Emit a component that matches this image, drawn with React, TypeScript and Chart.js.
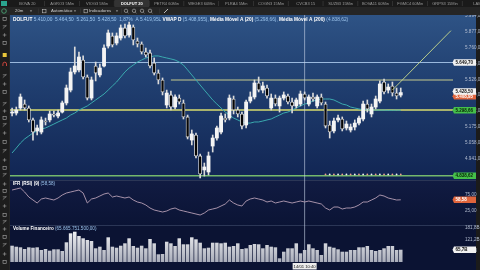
import React, { useEffect, useRef } from "react";
import { Chart, registerables } from "chart.js";

Chart.register(...registerables);

// ---------- DATA ----------
const candleOpen = [
  5278, 5278, 5315, 5344, 5315, 5227, 5146, 5138, 5219, 5227,
  5271, 5256, 5285, 5352, 5447, 5580, 5595, 5668, 5543, 5388,
  5624, 5558, 5624, 5771, 5845, 5793, 5830, 5904, 5852, 5911,
  5808, 5786, 5727, 5720, 5646, 5572, 5521, 5337, 5411, 5322,
  5388, 5352, 5249, 5079, 5116, 4962, 4859, 4844, 5035, 5094,
  5138, 5241, 5241, 5381, 5300, 5271, 5190, 5366, 5396, 5499,
  5447, 5462, 5315, 5388, 5330, 5388, 5403, 5359, 5330, 5344,
  5418, 5344, 5396, 5330, 5396, 5344, 5190, 5146, 5227, 5234,
  5168, 5153, 5175, 5204, 5234, 5344, 5271, 5322, 5366, 5506,
  5447, 5477, 5425, 5410,
];
const candleHigh = [
  5315, 5322, 5418, 5374, 5330, 5241, 5190, 5249, 5241, 5293,
  5293, 5300, 5366, 5484, 5609, 5764, 5727, 5698, 5558, 5543,
  5653, 5639, 5779, 5889, 5867, 5867, 5926, 5933, 5948, 5926,
  5830, 5801, 5756, 5742, 5683, 5595, 5536, 5447, 5440, 5411,
  5411, 5374, 5263, 5153, 5131, 4976, 4910, 4991, 5116, 5182,
  5278, 5271, 5411, 5403, 5322, 5285, 5374, 5433, 5521, 5543,
  5506, 5484, 5418, 5411, 5403, 5433, 5418, 5388, 5388, 5440,
  5433, 5411, 5425, 5411, 5418, 5359, 5219, 5241, 5263, 5249,
  5219, 5197, 5227, 5256, 5366, 5374, 5344, 5403, 5514, 5528,
  5492, 5506, 5462, 5462,
];
const candleLow = [
  5256, 5263, 5300, 5300, 5212, 5079, 5116, 5124, 5190, 5212,
  5249, 5241, 5278, 5337, 5433, 5565, 5580, 5528, 5374, 5374,
  5514, 5543, 5617, 5756, 5764, 5779, 5815, 5830, 5837, 5779,
  5764, 5712, 5690, 5609, 5558, 5492, 5411, 5315, 5300, 5308,
  5344, 5234, 5087, 5043, 4947, 4800, 4814, 4822, 4991, 5079,
  5124, 5212, 5227, 5271, 5249, 5160, 5168, 5352, 5381, 5433,
  5425, 5388, 5300, 5330, 5285, 5374, 5344, 5278, 5315, 5330,
  5374, 5330, 5366, 5315, 5337, 5168, 5094, 5131, 5212, 5146,
  5153, 5138, 5153, 5190, 5219, 5285, 5249, 5308, 5352, 5418,
  5425, 5403, 5381, 5396,
];
const candleClose = [
  5285, 5300, 5396, 5315, 5227, 5138, 5168, 5227, 5212, 5271,
  5263, 5278, 5352, 5462, 5580, 5624, 5690, 5543, 5388, 5521,
  5572, 5609, 5756, 5867, 5779, 5845, 5904, 5845, 5926, 5815,
  5786, 5727, 5705, 5624, 5572, 5521, 5433, 5425, 5322, 5396,
  5359, 5249, 5101, 5124, 4962, 4829, 4881, 4962, 5094, 5168,
  5256, 5227, 5388, 5300, 5271, 5182, 5359, 5396, 5499, 5447,
  5477, 5403, 5388, 5344, 5388, 5411, 5359, 5330, 5374, 5418,
  5388, 5396, 5381, 5396, 5352, 5182, 5138, 5219, 5241, 5160,
  5197, 5175, 5204, 5241, 5344, 5308, 5322, 5381, 5492, 5433,
  5469, 5425, 5403, 5428.5,
];
const movingAvg20 = [
  4984, 5020, 5057, 5087, 5109, 5131, 5146, 5160, 5168, 5182,
  5197, 5212, 5227, 5241, 5263, 5278, 5300, 5315, 5330, 5352,
  5374, 5396, 5418, 5447, 5477, 5506, 5543, 5580, 5609, 5631,
  5653, 5668, 5683, 5690, 5698, 5698, 5690, 5683, 5676, 5668,
  5653, 5631, 5595, 5558, 5521, 5484, 5447, 5411, 5374, 5344,
  5315, 5285, 5263, 5241, 5227, 5212, 5204, 5204, 5212, 5212,
  5219, 5227, 5234, 5249, 5263, 5278, 5285, 5300, 5315, 5330,
  5344, 5352, 5366, 5374, 5381, 5381, 5381, 5374, 5359, 5344,
  5337, 5322, 5315, 5308, 5303, 5301, 5300, 5300, 5299, 5299,
  5298, 5298, 5299, 5298.66,
];
const rsi9 = [
  88, 91, 94, 82, 67, 58, 49, 61, 64, 61,
  58, 64, 73, 79, 82, 85, 88, 79, 49, 61,
  64, 70, 76, 79, 67, 70, 67, 64, 67, 58,
  52, 49, 43, 34, 28, 25, 22, 25, 31, 34,
  28, 25, 22, 19, 16, 13, 19, 28, 31, 34,
  40, 46, 58, 49, 43, 40, 55, 61, 64, 61,
  58, 52, 55, 49, 52, 55, 52, 49, 52, 55,
  52, 55, 52, 49, 46, 34, 28, 37, 37, 31,
  34, 34, 37, 43, 52, 52, 58, 64, 73, 70,
  64, 61, 58, 58.58,
];
// volume financeiro, billions
const volumeB = [
  87.2, 81.9, 78.6, 69.6, 78.6, 76.5, 78.6, 64.2, 69.6, 60.5,
  67.9, 67.9, 58.9, 105.4, 153.5, 162.1, 139.1, 126.8, 117.7, 112.4,
  73.3, 81.9, 64.2, 132.1, 81.9, 76.5, 87.2, 100, 126.8, 85.6,
  76.5, 87.2, 73.3, 123, 100, 41.2, 42.8, 108.6, 100, 85.6,
  126.8, 94.7, 94.7, 132.1, 121.4, 103.3, 73.3, 76.5, 103.3, 103.3,
  100, 103.3, 81.9, 85.6, 100, 69.6, 73.3, 91, 96.3, 94.7,
  73.3, 91, 81.9, 78.6, 19.8, 55.1, 73.3, 73.3, 100, 46.5,
  64.2, 94.7, 73.3, 64.2, 37.5, 100, 81.9, 76.5, 67.9, 55.1,
  55.1, 64.2, 64.2, 78.6, 78.6, 85.6, 64.2, 58.9, 64.2, 73.3,
  85.6, 85.6, 64.2, 65.67,
];
const futureSlots = 12;
const hourTicks = [
  "11", "12", "13", "14", "15", "16", "17", "18", "09", "10", "11", "12",
  "13", "14", "15", "16", "17", "18", "09", "10", "11", "12", "13", "14",
  "15", "16", "17", "18", "09", "10", "11", "12",
];
const priceTicks = [4941, 5058, 5175, 5292, 5409, 5526, 5643, 5760, 5877, 5994];
const rsiTicks = [25, 75];
const volumeTicks = [60.6, 121.2, 181.8];

const crosshairPrice = 5649.7;
const crosshairIndex = 70;
const crosshairTime = "14/01 10:40";
const resistanceLevel = 5521;
const resistanceStart = 38;
const supportLevel = 5300;
const ma200Level = 4816;
const ma200Label = "4.838,62";
const vwapLevel = 5408.955;
const lastPrice = 5428.5;
const trendStart = { index: 91, price: 5447 };
const trendEnd = { index: 105, price: 5884 };
const signalLevel = 4826;
const signalStart = 75;

const tabNames = [
  "BOVA 20", "AGRO3 5Min", "VIOG3 5Min", "DOLFUT 20", "PETR4 60Min", "WEGE3 60Min", "PLRA4 5Min",
  "COGN3 15Min", "CVCB3 15", "SUZB3 15Min", "BOVA11 60Min", "FGMC4 60Min", "GRPS3 15Min", "LAME4",
];

// ---------- helpers ----------
const fmtNum = (v: number, d = 2) => {
  const s = v.toFixed(d);
  const [i, f] = s.split(".");
  return i.replace(/\B(?=(\d{3})+(?!\d))/g, ".") + (f ? "," + f : "");
};
const fmtB = (v: number) => v.toFixed(1).replace(".", ",") + "B";
const FONT = "'Liberation Sans', Arial, sans-serif";
const ok = (...v: number[]) => v.every((n) => Number.isFinite(n));

function labelBox(ctx: CanvasRenderingContext2D, yPix: number, text: string, bg: string, fg: string) {
  const x0 = 454, w = 22, h = 6.4;
  ctx.fillStyle = bg;
  ctx.beginPath();
  ctx.moveTo(x0 - 1.5, yPix);
  ctx.lineTo(x0, yPix - h / 2);
  ctx.lineTo(x0 + w, yPix - h / 2);
  ctx.lineTo(x0 + w, yPix + h / 2);
  ctx.lineTo(x0, yPix + h / 2);
  ctx.closePath();
  ctx.fill();
  ctx.fillStyle = fg;
  ctx.font = `bold 4.5px ${FONT}`;
  ctx.textBaseline = "middle";
  ctx.textAlign = "left";
  ctx.fillText(text, x0 + 1.5, yPix + 0.3);
}

function hLine(ctx: CanvasRenderingContext2D, y: number, x1: number, x2: number, color: string, w: number) {
  ctx.strokeStyle = color;
  ctx.lineWidth = w;
  ctx.beginPath();
  ctx.moveTo(x1, y);
  ctx.lineTo(x2, y);
  ctx.stroke();
}

const platformPlugin = {
  id: "platform",
  beforeDraw(chart: any) {
    const ctx: CanvasRenderingContext2D = chart.ctx;
    const y = chart.scales.y, yR = chart.scales.yRsi, yV = chart.scales.yVol;
    if (!y || !yR || !yV || !ok(y.top, y.bottom, yR.top, yR.bottom, yV.top)) return;
    ctx.save();
    ctx.fillStyle = "#151515";
    ctx.fillRect(0, 0, 480, 270);
    const g = ctx.createLinearGradient(0, y.top, 0, y.bottom);
    g.addColorStop(0, "#2e5385");
    g.addColorStop(0.45, "#1f3d6e");
    g.addColorStop(1, "#112553");
    ctx.fillStyle = g;
    ctx.fillRect(10, y.top, 466, y.bottom - y.top);
    const g2 = ctx.createLinearGradient(0, yR.top, 0, yR.bottom);
    g2.addColorStop(0, "#111b42");
    g2.addColorStop(1, "#0b1435");
    ctx.fillStyle = g2;
    ctx.fillRect(10, yR.top, 466, yR.bottom - yR.top);
    ctx.fillStyle = "#0b1333";
    ctx.fillRect(10, yV.top, 466, 270 - yV.top);
    hLine(ctx, y.bottom + 0.5, 10, 476, "#2b3656", 1);
    hLine(ctx, yR.bottom + 0.5, 10, 476, "#2b3656", 1);
    ctx.fillStyle = "#1b1b1b";
    ctx.fillRect(476, 15, 4, 255);
    ctx.restore();
  },
  beforeDatasetsDraw(chart: any) {
    const ctx: CanvasRenderingContext2D = chart.ctx;
    const { y, x, yVol } = chart.scales;
    const a = chart.chartArea;
    ctx.save();
    hLine(ctx, y.getPixelForValue(crosshairPrice), a.left, a.right, "rgba(175,205,240,0.85)", 1);
    hLine(ctx, y.getPixelForValue(resistanceLevel), x.getPixelForValue(resistanceStart), a.right, "#8f9c84", 1.3);
    hLine(ctx, y.getPixelForValue(supportLevel), a.left, a.right, "#d9dc6e", 1.6);
    hLine(ctx, y.getPixelForValue(ma200Level), a.left, a.right, "#74b86c", 1.6);
    const cx = x.getPixelForValue(crosshairIndex);
    ctx.strokeStyle = "rgba(205,215,235,0.75)";
    ctx.lineWidth = 0.8;
    ctx.beginPath();
    ctx.moveTo(cx, y.top);
    ctx.lineTo(cx, yVol.bottom);
    ctx.stroke();
    ctx.restore();
  },
  afterDraw(chart: any) {
    const ctx: CanvasRenderingContext2D = chart.ctx;
    const { y, yRsi, yVol, x } = chart.scales;
    ctx.save();
    ctx.textBaseline = "middle";
    ctx.textAlign = "left";

    // header legend
    const segs: [string, string, boolean][] = [
      ["DOLFUT ", "#ffffff", true],
      ["5.410,00  5.464,50  5.261,50  5.428,50  1,87%  A 5.419,95L ", "#9cc4ec", false],
      ["VWAP D ", "#ffffff", true],
      ["(5.408,955), ", "#9cc4ec", false],
      ["Média Móvel A (20) ", "#ffffff", true],
      ["(5.298,66), ", "#9cc4ec", false],
      ["Média Móvel A (200) ", "#ffffff", true],
      ["(4.838,62)", "#9cc4ec", false],
    ];
    let hx = 13;
    for (const [t, c, b] of segs) {
      ctx.font = `${b ? "bold " : ""}4.8px ${FONT}`;
      ctx.fillStyle = c;
      ctx.fillText(t, hx, 19.5);
      hx += ctx.measureText(t).width;
    }
    // panel titles
    ctx.font = `bold 4.6px ${FONT}`;
    ctx.fillStyle = "#ffffff";
    ctx.fillText("IFR (RSI) (9) ", 13, yRsi.top + 4);
    let w = ctx.measureText("IFR (RSI) (9) ").width;
    ctx.font = `4.6px ${FONT}`;
    ctx.fillStyle = "#9cc4ec";
    ctx.fillText("(58,58)", 13 + w, yRsi.top + 4);
    ctx.font = `bold 4.6px ${FONT}`;
    ctx.fillStyle = "#ffffff";
    ctx.fillText("Volume Financeiro ", 13, yVol.top + 4);
    w = ctx.measureText("Volume Financeiro ").width;
    ctx.font = `4.6px ${FONT}`;
    ctx.fillStyle = "#9cc4ec";
    ctx.fillText("(65.665.751.500,00)", 13 + w, yVol.top + 4);

    // right label boxes
    const lastMa = movingAvg20[movingAvg20.length - 1];
    const lastRsi = rsi9[rsi9.length - 1];
    const lastVol = volumeB[volumeB.length - 1];
    labelBox(ctx, y.getPixelForValue(crosshairPrice), fmtNum(crosshairPrice), "#f2f2f2", "#111");
    labelBox(ctx, y.getPixelForValue(vwapLevel) + 1, fmtNum(vwapLevel), "#e0643c", "#fff");
    labelBox(ctx, y.getPixelForValue(lastPrice) - 1, fmtNum(lastPrice), "#f2f2f2", "#111");
    labelBox(ctx, y.getPixelForValue(lastMa), fmtNum(lastMa), "#45c04a", "#062006");
    labelBox(ctx, y.getPixelForValue(ma200Level), ma200Label, "#45c04a", "#062006");
    labelBox(ctx, yRsi.getPixelForValue(lastRsi), fmtNum(lastRsi), "#e0643c", "#fff");
    labelBox(ctx, yVol.getPixelForValue(lastVol), fmtB(lastVol), "#f2f2f2", "#111");

    // crosshair date box
    const cx = x.getPixelForValue(crosshairIndex);
    ctx.fillStyle = "#ececec";
    ctx.fillRect(cx - 12, 263, 24, 6.5);
    ctx.fillStyle = "#111";
    ctx.font = `4.2px ${FONT}`;
    ctx.textAlign = "center";
    ctx.fillText(crosshairTime, cx, 266.4);
    ctx.textAlign = "left";

    // tabs row
    ctx.fillStyle = "#1a1a1a";
    ctx.fillRect(0, 0, 480, 7);
    ctx.fillStyle = "#2aa58f";
    ctx.fillRect(1, 1, 6, 5);
    const tw = 34.8;
    tabNames.forEach((t, i) => {
      const tx = 10 + i * tw;
      if (i === 3) {
        ctx.fillStyle = "#333333";
        ctx.fillRect(tx, 0, tw, 7.5);
      }
      ctx.fillStyle = "#3c3c3c";
      ctx.fillRect(tx + tw - 0.5, 1, 0.7, 5);
      ctx.font = `${i === 3 ? "bold " : ""}4px ${FONT}`;
      ctx.fillStyle = i === 3 ? "#ffffff" : "#9b9b9b";
      ctx.textAlign = "center";
      ctx.fillText(t, tx + tw / 2, 3.8);
    });
    ctx.textAlign = "left";

    // toolbar row
    ctx.fillStyle = "#252525";
    ctx.fillRect(0, 7, 480, 8);
    ctx.strokeStyle = "#4cb07c";
    ctx.lineWidth = 0.8;
    ctx.beginPath();
    ctx.arc(4, 11, 2.3, 0, Math.PI * 2);
    ctx.stroke();
    ctx.font = `4.3px ${FONT}`;
    ctx.fillStyle = "#d0d0d0";
    ctx.fillText("20m", 15, 11.2);
    ctx.fillText("Automático", 51, 11.2);
    ctx.fillText("Indicadores", 89, 11.2);
    ctx.fillStyle = "#bdbdbd";
    for (const ax of [31, 75, 117]) {
      ctx.beginPath();
      ctx.moveTo(ax - 1.2, 10.4);
      ctx.lineTo(ax + 1.2, 10.4);
      ctx.lineTo(ax, 11.8);
      ctx.closePath();
      ctx.fill();
    }
    ctx.strokeStyle = "#bdbdbd";
    ctx.lineWidth = 0.6;
    ctx.strokeRect(42.5, 9.3, 3.5, 3.5);
    ctx.strokeRect(84, 9.3, 3.5, 3.5);
    for (const ix of [126, 134, 142, 150]) {
      ctx.beginPath();
      ctx.arc(ix, 10.8, 1.7, 0, Math.PI * 2);
      ctx.stroke();
      ctx.beginPath();
      ctx.moveTo(ix + 1.2, 12);
      ctx.lineTo(ix + 2.4, 13.2);
      ctx.stroke();
    }
    ctx.strokeStyle = "#e0e0e0";
    ctx.lineWidth = 0.8;
    ctx.beginPath();
    ctx.moveTo(164, 13);
    ctx.lineTo(168, 9);
    ctx.stroke();
    ctx.fillStyle = "#3a3a3a";
    for (const sx of [38, 80, 121, 159]) ctx.fillRect(sx, 8.5, 0.6, 5);

    // left toolbar
    ctx.fillStyle = "#1d1d1d";
    ctx.fillRect(0, 15, 10, 255);
    ctx.fillStyle = "#2c2c2c";
    ctx.fillRect(9.4, 15, 0.6, 255);
    const icons = [19, 27, 35, 43, 76, 84, 92, 104, 111, 118, 125, 133, 142, 151, 160, 168, 175, 184, 191, 198, 206, 215, 222, 229, 237, 245, 254, 262];
    ctx.strokeStyle = "#a8a8a8";
    ctx.lineWidth = 0.6;
    icons.forEach((iy, k) => {
      if (k % 3 === 0) {
        ctx.strokeRect(3, iy - 1.6, 3.2, 3.2);
      } else if (k % 3 === 1) {
        ctx.beginPath();
        ctx.moveTo(2.8, iy + 1.6);
        ctx.lineTo(6.4, iy - 1.6);
        ctx.moveTo(2.8, iy - 1.2);
        ctx.lineTo(6.4, iy - 1.2);
        ctx.stroke();
      } else {
        ctx.beginPath();
        ctx.moveTo(4.6, iy - 1.8);
        ctx.lineTo(4.6, iy + 1.8);
        ctx.moveTo(2.8, iy);
        ctx.lineTo(6.4, iy);
        ctx.stroke();
      }
    });
    ctx.fillStyle = "#e8c53a";
    ctx.fillRect(2.7, 53, 4, 4);
    ctx.strokeStyle = "#d9483f";
    ctx.lineWidth = 0.9;
    ctx.beginPath();
    ctx.arc(4.7, 64, 1.8, Math.PI, 0);
    ctx.moveTo(2.9, 64);
    ctx.lineTo(2.9, 66);
    ctx.moveTo(6.5, 64);
    ctx.lineTo(6.5, 66);
    ctx.stroke();
    ctx.restore();
  },
};

export default function App() {
  const ref = useRef<HTMLCanvasElement>(null);
  useEffect(() => {
    const canvas = ref.current;
    if (!canvas) return;
    const n = candleOpen.length;
    const slots = n + futureSlots;
    const labels = Array.from({ length: slots }, (_, i) => String(i));
    const pad = (arr: any[]) => [...arr, ...Array(slots - arr.length).fill(null)];
    const isUp = (i: number) => candleClose[i] >= candleOpen[i];
    const trend = Array.from({ length: slots }, (_, i) =>
      i === trendStart.index ? trendStart.price : i === trendEnd.index ? trendEnd.price : null
    );
    const signals = Array.from({ length: slots }, (_, i) => (i >= signalStart && i < n ? signalLevel : null));

    const chart = new Chart(canvas, {
      type: "bar",
      data: {
        labels,
        datasets: [
          {
            type: "line",
            data: trend,
            yAxisID: "y",
            borderColor: "#c7da8c",
            borderWidth: 0.9,
            pointRadius: 0,
            spanGaps: true,
            order: 0,
          } as any,
          {
            type: "line",
            data: signals,
            yAxisID: "y",
            showLine: false,
            pointRadius: 0.9,
            pointBorderWidth: 0,
            pointBackgroundColor: signals.map((_, i) => (i % 2 ? "#e9a090" : "#f2f2f2")),
            order: 0,
          } as any,
          {
            type: "bar",
            data: pad(candleOpen.map((o, i) => [o, candleClose[i]])),
            yAxisID: "y",
            backgroundColor: candleOpen.map((_, i) => (isUp(i) ? "#f4f4f4" : "#050505")),
            borderColor: "#e6e6e6",
            borderWidth: candleOpen.map((_, i) => (isUp(i) ? 0 : 0.8)),
            borderSkipped: false,
            barThickness: 3.2,
            minBarLength: 1,
            grouped: false,
            order: 1,
          } as any,
          {
            type: "bar",
            data: pad(candleLow.map((l, i) => [l, candleHigh[i]])),
            yAxisID: "y",
            backgroundColor: "#dadada",
            barThickness: 1,
            grouped: false,
            order: 2,
          } as any,
          {
            type: "line",
            data: pad(movingAvg20),
            yAxisID: "y",
            borderColor: "#3aa9ae",
            borderWidth: 1,
            pointRadius: 0,
            order: 3,
          } as any,
          {
            type: "line",
            data: pad(rsi9),
            yAxisID: "yRsi",
            borderColor: "#b79fb6",
            borderWidth: 0.9,
            pointRadius: 0,
            order: 3,
          } as any,
          {
            type: "bar",
            data: pad(volumeB),
            yAxisID: "yVol",
            backgroundColor: (c: any) => {
              const s = c.chart.scales.yVol;
              if (!s || !ok(s.top, s.bottom) || s.bottom <= s.top) return "#d2d4dc";
              const g = c.chart.ctx.createLinearGradient(0, s.top, 0, s.bottom);
              g.addColorStop(0, "#ffffff");
              g.addColorStop(1, "#a9adba");
              return g;
            },
            categoryPercentage: 1,
            barPercentage: 0.84,
            grouped: false,
            order: 3,
          } as any,
        ],
      },
      options: {
        responsive: false,
        animation: false,
        events: [],
        layout: { padding: { left: 10, top: 15, right: 0, bottom: 0 } },
        plugins: { legend: { display: false }, tooltip: { enabled: false } },
        scales: {
          x: {
            type: "category",
            offset: true,
            grid: { display: false },
            border: { display: false },
            ticks: {
              autoSkip: false,
              maxRotation: 0,
              padding: 1,
              color: "#b4bccc",
              font: { size: 4.5, family: FONT },
              callback: (_v: any, i: number) =>
                i % 3 === 1 && i < n ? hourTicks[(i - 1) / 3] ?? "" : "",
            },
            afterFit: (s: any) => {
              s.height = 8;
            },
          },
          y: {
            position: "right",
            stack: "panes",
            stackWeight: 165,
            min: 4785,
            max: 5999.3,
            grid: { display: false },
            border: { display: false },
            ticks: {
              padding: 4,
              color: "#b3bdd0",
              font: { size: 4.6, family: FONT },
              callback: (v: any) => fmtNum(Number(v)),
            },
            afterBuildTicks: (s: any) => {
              s.ticks = priceTicks.map((v) => ({ value: v }));
            },
            afterFit: (s: any) => {
              s.width = 27;
            },
          },
          yRsi: {
            position: "right",
            stack: "panes",
            stackWeight: 45,
            min: -17,
            max: 118,
            grid: { display: false },
            border: { display: false },
            ticks: {
              padding: 4,
              color: "#b3bdd0",
              font: { size: 4.6, family: FONT },
              callback: (v: any) => fmtNum(Number(v)),
            },
            afterBuildTicks: (s: any) => {
              s.ticks = rsiTicks.map((v) => ({ value: v }));
            },
            afterFit: (s: any) => {
              s.width = 27;
            },
          },
          yVol: {
            position: "right",
            stack: "panes",
            stackWeight: 37,
            min: 0,
            max: 198,
            grid: { display: false },
            border: { display: false },
            ticks: {
              padding: 4,
              color: "#b3bdd0",
              font: { size: 4.6, family: FONT },
              callback: (v: any) => fmtB(Number(v)),
            },
            afterBuildTicks: (s: any) => {
              s.ticks = volumeTicks.map((v) => ({ value: v }));
            },
            afterFit: (s: any) => {
              s.width = 27;
            },
          },
        },
      } as any,
      plugins: [platformPlugin as any],
    });
    return () => chart.destroy();
  }, []);

  return (
    <div style={{ position: "fixed", left: 0, top: 0, width: 480, height: 270, background: "#151515", overflow: "hidden" }}>
      <canvas ref={ref} width={480} height={270} style={{ display: "block", width: 480, height: 270 }} />
    </div>
  );
}
